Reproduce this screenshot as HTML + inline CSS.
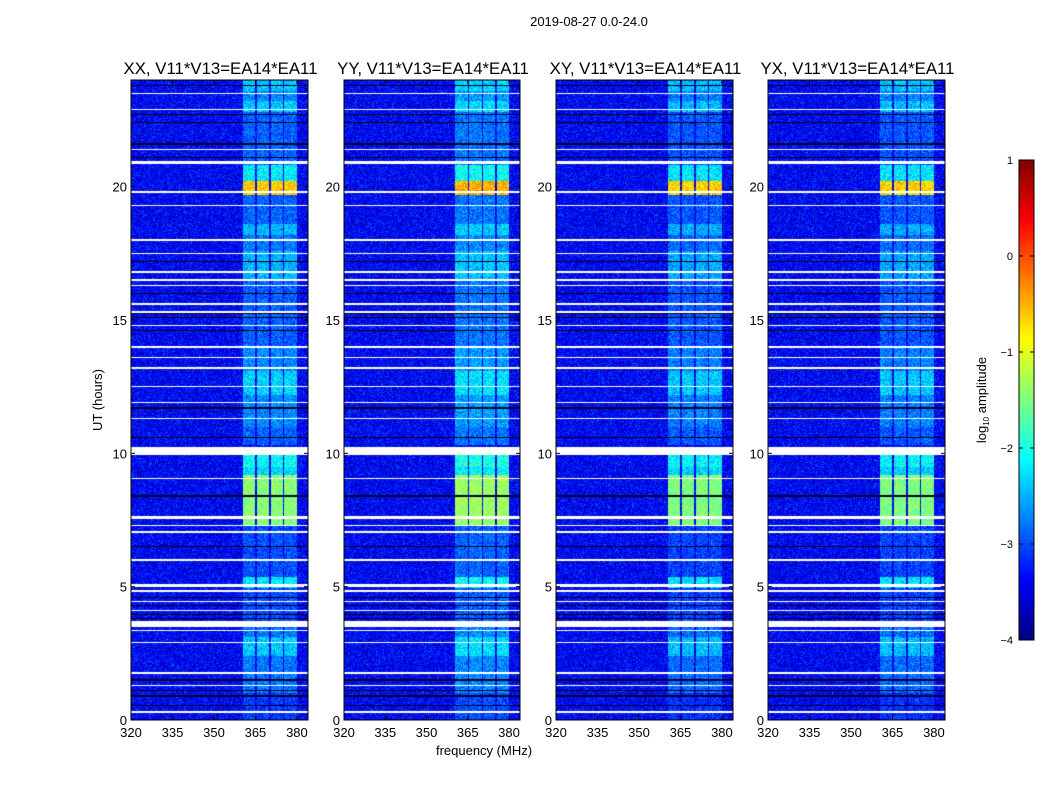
<!DOCTYPE html>
<html><head><meta charset="utf-8">
<style>
html,body{margin:0;padding:0;background:#fff;}
#root{position:relative;width:1050px;height:800px;overflow:hidden;font-family:"Liberation Sans",sans-serif;}
canvas{position:absolute;}
svg{position:absolute;left:0;top:0;}
</style></head>
<body>
<div id="root">
<canvas id="c0" width="177" height="640" style="left:131px;top:80px"></canvas>
<canvas id="c1" width="176" height="640" style="left:344px;top:80px"></canvas>
<canvas id="c2" width="177" height="640" style="left:556px;top:80px"></canvas>
<canvas id="c3" width="177" height="640" style="left:768px;top:80px"></canvas>
<canvas id="cb" width="15" height="480" style="left:1019px;top:160px"></canvas>
<svg id="ov" width="1050" height="800"></svg>
</div>
<script>
// ---- data ----
const panelTitles = ["XX, V11*V13=EA14*EA11","YY, V11*V13=EA14*EA11","XY, V11*V13=EA14*EA11","YX, V11*V13=EA14*EA11"];
const panelLeft = [131,344,556,768];
const panelWidth = [177,176,177,177];
const panelGain = [0, 0.1, -0.05, -0.05];
const xTicks = [320,335,350,365,380];
const yTicks = [0,5,10,15,20];
const cbTicks = [1,0,-1,-2,-3,-4];
const freqMin = 320, freqMax = 384, hourMin = 0, hourMax = 24;
const vMin = -4, vMax = 1;
const backgroundLevel = -3.4;
const bandEdges = [[360.5,365],[365.5,370],[370.5,375],[375.5,380]];
// time segments of band activity: [start hour, end hour, log10 level]
const activityStart = [0.0, 1.0, 2.4, 3.1, 3.7, 4.95, 5.35, 7.3, 9.2, 9.5, 10.3, 11.0, 12.2, 13.1, 14.0, 15.0, 16.5, 17.6, 18.2, 18.6, 19.7, 20.2, 20.8, 22.8, 23.2, 23.6];
const activityEnd   = [1.0, 2.4, 3.1, 3.7, 4.95, 5.35, 7.3, 9.2, 9.5, 10.0, 11.0, 12.2, 13.1, 14.0, 15.0, 16.5, 17.6, 18.2, 18.6, 19.7, 20.2, 20.8, 22.8, 23.2, 23.6, 24.0];
const activityLevel = [-3.1, -2.8, -2.4, -2.8, -3.0, -2.2, -3.0, -1.45, -2.3, -2.1, -2.9, -2.7, -2.35, -2.7, -2.9, -2.9, -2.5, -2.8, -2.5, -2.9, -0.6, -2.2, -2.9, -2.4, -2.7, -2.4];
// flagged (white) rows: [hour, thickness in hours]
const gapHours = [0.3,1.3,1.76,2.9,3.35,3.6,4.1,4.45,4.85,5.05,6.0,7.05,7.3,7.6,9.06,10.1,11.3,11.9,12.5,13.2,13.6,14.0,14.8,15.3,15.6,16.3,16.5,16.8,17.5,18.0,19.3,19.8,20.9,21.4,22.9,23.5];
const gapWidth = [0.05,0.05,0.08,0.05,0.05,0.22,0.05,0.05,0.08,0.12,0.05,0.06,0.06,0.1,0.05,0.3,0.05,0.05,0.06,0.05,0.05,0.08,0.05,0.06,0.05,0.05,0.06,0.05,0.06,0.05,0.05,0.06,0.12,0.05,0.05,0.05];
// dark (zero) rows
const darkHours = [0.55,0.9,1.1,1.5,3.8,3.95,4.3,4.6,6.5,8.4,10.6,11.7,14.6,15.1,15.25,16.0,17.2,21.1,21.6,22.4,22.7,23.8];

// ---- helpers ----
function jet(t){t=Math.max(0,Math.min(1,t));
 const r=Math.max(0,Math.min(1,1.5-Math.abs(4*t-3))),g=Math.max(0,Math.min(1,1.5-Math.abs(4*t-2))),b=Math.max(0,Math.min(1,1.5-Math.abs(4*t-1)));
 return [r*255,g*255,b*255];}
function hash(a,b,k){let h=(a*374761393+b*668265263+k*1442695041)|0;h=(h^(h>>>13))*1274126177|0;h=h^(h>>>16);return ((h>>>0)%10000)/10000;}
function level(f,t){let lv=null;
 let inBand=false;for(const e of bandEdges){if(f>=e[0]&&f<=e[1])inBand=true;}
 if(!inBand)return null;
 for(let i=0;i<activityStart.length;i++){if(t>=activityStart[i]&&t<activityEnd[i])lv=activityLevel[i];}
 return lv;}
const sx=(p,f)=>panelLeft[p]+(f-freqMin)/(freqMax-freqMin)*panelWidth[p];
const sy=h=>720-(h-hourMin)/(hourMax-hourMin)*640;

for(let p=0;p<4;p++){
 const cv=document.getElementById('c'+p),ctx=cv.getContext('2d');
 const W=cv.width,H=640,img=ctx.createImageData(W,H);
 for(let y=0;y<H;y++){
  const t=hourMax-(y+0.5)/H*(hourMax-hourMin);
  let white=false,dark=false;
  for(let i=0;i<gapHours.length;i++){if(Math.abs(t-gapHours[i])<gapWidth[i]/2)white=true;}
  for(const d of darkHours){if(Math.abs(t-d)<0.02)dark=true;}
  for(let x=0;x<W;x++){
   const f=freqMin+(x+0.5)/W*(freqMax-freqMin);
   let c;
   if(white)c=[255,255,255];
   else if(dark)c=[0,0,40];
   else{
    const n=hash(x,y,p)+hash(x+7,y*3,p+1)-1;
    let v=backgroundLevel+n*0.6;
    const lv=level(f,t);
    if(lv!==null){v=Math.max(v,lv+panelGain[p]+n*0.5);}
    c=jet((v-vMin)/(vMax-vMin));
   }
   const k=(y*W+x)*4;img.data[k]=c[0];img.data[k+1]=c[1];img.data[k+2]=c[2];img.data[k+3]=255;
  }}
 ctx.putImageData(img,0,0);
}
{const cv=document.getElementById('cb'),ctx=cv.getContext('2d');
 for(let y=0;y<480;y++){const c=jet(1-(y+0.5)/480);ctx.fillStyle=`rgb(${c[0]|0},${c[1]|0},${c[2]|0})`;ctx.fillRect(0,y,15,1);}}

const NS='http://www.w3.org/2000/svg',ov=document.getElementById('ov');
function el(tag,attrs,txt){const e=document.createElementNS(NS,tag);for(const k in attrs)e.setAttribute(k,attrs[k]);if(txt!==undefined)e.textContent=txt;ov.appendChild(e);return e;}
const minus=v=>String(v).replace('-','\u2212');

let e=el('text',{x:589,y:26,'text-anchor':'middle','font-size':13},'2019-08-27 0.0-24.0');


for(let p=0;p<4;p++){
 const L=panelLeft[p],R=L+panelWidth[p];
 e=el('rect',{x:L,y:80,width:panelWidth[p],height:640,fill:'none',stroke:'#000','stroke-width':1});
 
 
 e=el('text',{x:(L+R)/2+1,y:74,'text-anchor':'middle','font-size':16.8},panelTitles[p]);
 
 
 for(const f of xTicks){const x=sx(p,f);
  el('line',{x1:x,x2:x,y1:720,y2:716,stroke:'#000'});el('line',{x1:x,x2:x,y1:80,y2:84,stroke:'#000'});
  e=el('text',{x:x,y:737,'text-anchor':'middle','font-size':13},f);
  
  }
 for(const h of yTicks){const y=sy(h);
  el('line',{x1:L,x2:L+4,y1:y,y2:y,stroke:'#000'});el('line',{x1:R,x2:R-4,y1:y,y2:y,stroke:'#000'});
  e=el('text',{x:L-4,y:y+5,'text-anchor':'end','font-size':13},h);
  
  }
}
e=el('text',{x:484,y:755,'text-anchor':'middle','font-size':13},'frequency (MHz)');


e=el('text',{x:0,y:0,'text-anchor':'middle','font-size':13,transform:'translate(102,400) rotate(-90)'},'UT (hours)');


el('rect',{x:1019,y:160,width:15,height:480,fill:'none',stroke:'#000'});
for(const v of cbTicks){const y=160+(vMax-v)/(vMax-vMin)*480;
 el('line',{x1:1019,x2:1023,y1:y,y2:y,stroke:'#000'});el('line',{x1:1034,x2:1030,y1:y,y2:y,stroke:'#000'});
 e=el('text',{x:1013,y:y+4,'text-anchor':'end','font-size':11},minus(v));
 
 }
e=el('text',{x:0,y:0,'text-anchor':'middle','font-size':13,transform:'translate(986,400) rotate(-90)'});
e.innerHTML='log<tspan font-size="8" dy="3">10</tspan><tspan dy="-3"> amplitude</tspan>';


</script>
</body></html>
